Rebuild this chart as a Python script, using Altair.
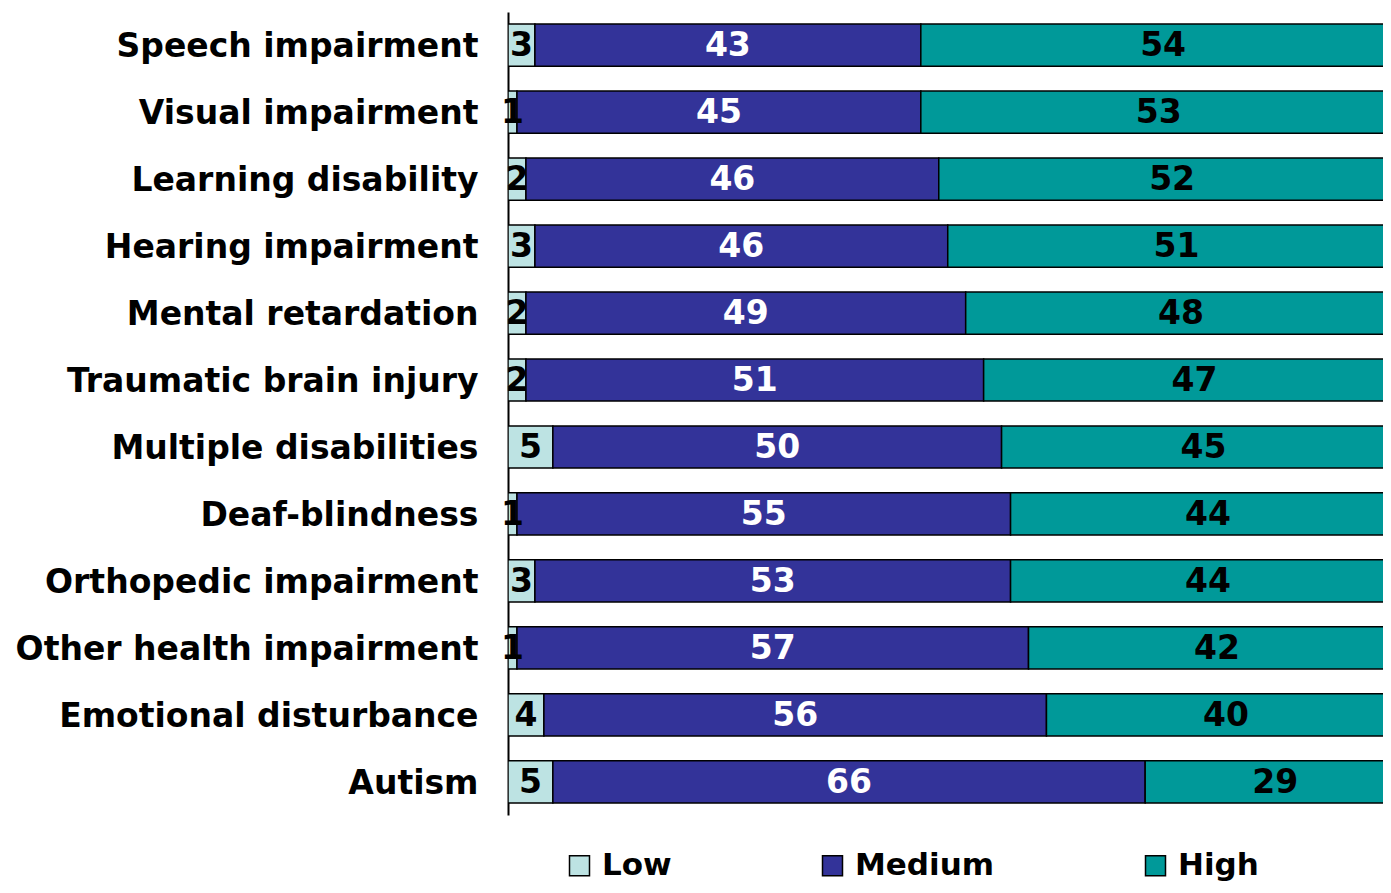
import altair as alt
import pandas as pd

categories = ["Speech impairment", "Visual impairment", "Learning disability",
              "Hearing impairment", "Mental retardation", "Traumatic brain injury",
              "Multiple disabilities", "Deaf-blindness", "Orthopedic impairment",
              "Other health impairment", "Emotional disturbance", "Autism"]
low = [3, 1, 2, 3, 2, 2, 5, 1, 3, 1, 4, 5]
medium = [43, 45, 46, 46, 49, 51, 50, 55, 53, 57, 56, 66]
high = [54, 53, 52, 51, 48, 47, 45, 44, 44, 42, 40, 29]
levels = ["Low", "Medium", "High"]
colors = ["#BDE3E3", "#333399", "#009999"]

rows = []
for i, c in enumerate(categories):
    start = 0
    for lvl, vals in zip(levels, [low, medium, high]):
        v = vals[i]
        rows.append(dict(cat=c, level=lvl, value=v, start=start, end=start + v,
                         mid=start + v / 2))
        start += v
df = pd.DataFrame(rows)

FONT = "DejaVu Sans"
W = 875
H = 803

xscale = alt.Scale(domain=[0, 97.5], nice=False, zero=False)
yenc = alt.Y("cat:N", sort=categories,
             scale=alt.Scale(paddingInner=0.37, paddingOuter=0.18),
             axis=alt.Axis(title=None, labelFont=FONT, labelFontWeight="bold",
                           labelFontSize=33, labelColor="black", ticks=False,
                           domainColor="black", domainWidth=2, labelPadding=30,
                           labelOffset=2, labelLimit=0, grid=False))

bars = alt.Chart(df).mark_bar(stroke="black", strokeWidth=1.5, clip=True).encode(
    x=alt.X("start:Q", scale=xscale, axis=None),
    x2="end:Q",
    y=yenc,
    color=alt.Color("level:N", scale=alt.Scale(domain=levels, range=colors),
                    legend=alt.Legend(title=None, orient="none", legendX=56, legendY=838,
                                      direction="horizontal", symbolType="square",
                                      symbolSize=400, symbolStrokeColor="black",
                                      symbolStrokeWidth=1.5, labelFont=FONT,
                                      labelFontSize=31, labelFontWeight="bold",
                                      labelColor="black", columnPadding=145,
                                      labelOffset=7, labelLimit=0)),
)

labels = alt.Chart(df).mark_text(font=FONT, fontSize=33, fontWeight="bold",
                                 baseline="middle", align="center", dy=1).encode(
    x=alt.X("mid:Q", scale=xscale, axis=None),
    y=alt.Y("cat:N", sort=categories),
    text=alt.Text("value:Q"),
    color=alt.condition(alt.datum.level == "Medium", alt.value("white"), alt.value("black")),
)

chart = alt.layer(bars, labels).properties(
    width=W, height=H,
    background="white",
    autosize=alt.AutoSizeParams(type="none"),
    padding={"left": 500, "top": 4, "right": 0, "bottom": 70},
).configure_view(stroke="transparent", strokeWidth=0)

chart.save("out.html", embed_options={"renderer": "svg", "actions": False})
